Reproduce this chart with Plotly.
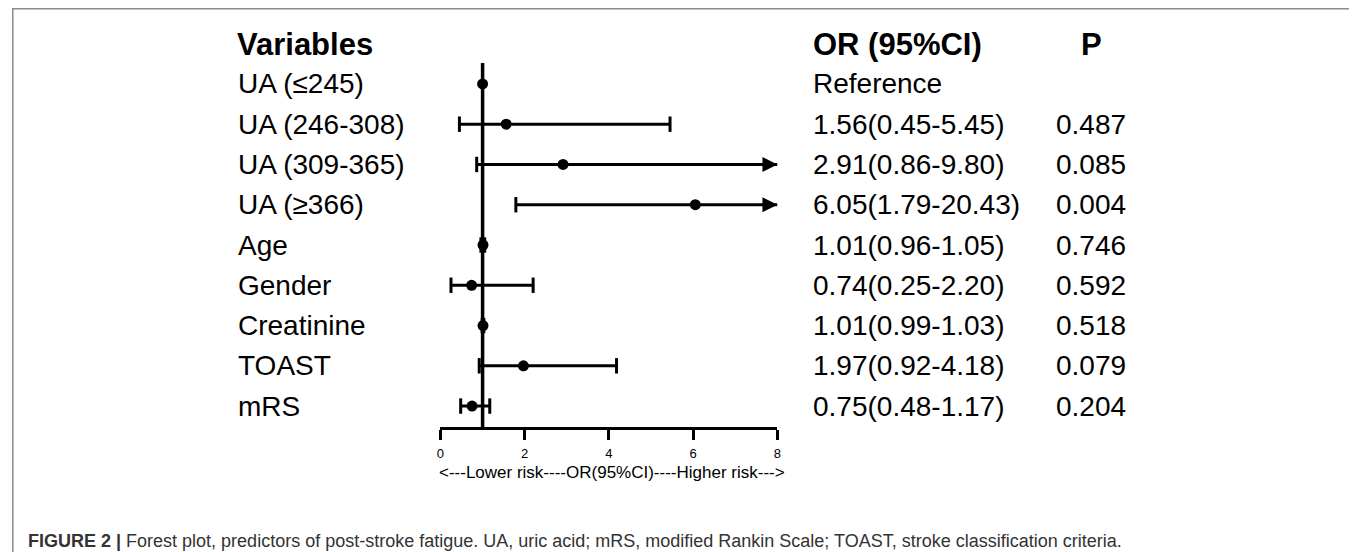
import plotly.graph_objects as go

variables = ["UA (≤245)", "UA (246-308)", "UA (309-365)", "UA (≥366)", "Age",
             "Gender", "Creatinine", "TOAST", "mRS"]
or_vals = [1.00, 1.56, 2.91, 6.05, 1.01, 0.74, 1.01, 1.97, 0.75]
ci_low = [1.00, 0.45, 0.86, 1.79, 0.96, 0.25, 0.99, 0.92, 0.48]
ci_high = [1.00, 5.45, 9.80, 20.43, 1.05, 2.20, 1.03, 4.18, 1.17]
or_text = ["Reference", "1.56(0.45-5.45)", "2.91(0.86-9.80)", "6.05(1.79-20.43)",
           "1.01(0.96-1.05)", "0.74(0.25-2.20)", "1.01(0.99-1.03)", "1.97(0.92-4.18)",
           "0.75(0.48-1.17)"]
p_text = ["", "0.487", "0.085", "0.004", "0.746", "0.592", "0.518", "0.079", "0.204"]
x_ticks = [0, 2, 4, 6, 8]
x_min, x_max = 0, 8
ref_line = 1

W, H = 1357, 552
OFF = 8  # page body margin


def px(x):
    return (x - OFF) / W


def py(y):
    return 1 - (y - OFF) / H


FONT = "Liberation Sans, Arial, sans-serif"
n = len(variables)
rows = list(range(n))

fig = go.Figure()

# CI lines
for i in rows:
    if ci_high[i] > ci_low[i]:
        hi = min(ci_high[i], x_max)
        fig.add_trace(go.Scatter(x=[ci_low[i], hi], y=[i, i], mode="lines",
                                 line=dict(color="black", width=3),
                                 hoverinfo="skip", showlegend=False, cliponaxis=False))

# caps
cap_x, cap_y = [], []
for i in rows:
    if ci_high[i] > ci_low[i]:
        cap_x.append(ci_low[i]); cap_y.append(i)
        if ci_high[i] <= x_max:
            cap_x.append(ci_high[i]); cap_y.append(i)
fig.add_trace(go.Scatter(x=cap_x, y=cap_y, mode="markers",
                         marker=dict(symbol="line-ns", size=11,
                                     line=dict(color="black", width=3)),
                         hoverinfo="skip", showlegend=False, cliponaxis=False))

# points
fig.add_trace(go.Scatter(x=or_vals, y=rows, mode="markers",
                         marker=dict(symbol="circle", size=11, color="black"),
                         showlegend=False, cliponaxis=False))

# arrows for truncated CIs
for i in rows:
    if ci_high[i] > x_max:
        fig.add_annotation(x=x_max, y=i, ax=x_max - 0.4, ay=i, xref="x", yref="y",
                           axref="x", ayref="y", showarrow=True, arrowhead=2,
                           arrowsize=1, arrowwidth=3, arrowcolor="black", text="",
                           standoff=0)

# reference vertical line
fig.add_shape(type="line", x0=ref_line, x1=ref_line, xref="x", y0=0, y1=1,
              yref="y domain", line=dict(color="black", width=3.5))

# text columns
lab_font = dict(family=FONT, size=28, color="black")
head_font = dict(family=FONT, size=31, color="black")
head_y = py(45)
fig.add_annotation(x=px(232), y=head_y, xref="paper", yref="paper", text="<b>Variables</b>",
                   showarrow=False, xanchor="left", yanchor="middle", font=head_font)
fig.add_annotation(x=px(812), y=head_y, xref="paper", yref="paper", text="<b>OR (95%CI)</b>",
                   showarrow=False, xanchor="left", yanchor="middle", font=head_font)
fig.add_annotation(x=px(1094), y=head_y, xref="paper", yref="paper", text="<b>P</b>",
                   showarrow=False, xanchor="center", yanchor="middle", font=head_font)
for i in rows:
    fig.add_annotation(x=px(233), y=i, xref="paper", yref="y", text=variables[i],
                       showarrow=False, xanchor="left", font=lab_font)
    fig.add_annotation(x=px(812), y=i, xref="paper", yref="y", text=or_text[i],
                       showarrow=False, xanchor="left", font=lab_font)
    if p_text[i]:
        fig.add_annotation(x=px(1093), y=i, xref="paper", yref="y", text=p_text[i],
                           showarrow=False, xanchor="center", font=lab_font)

# axis title
fig.add_annotation(x=px((439 + 784) / 2), y=py(472), xref="paper", yref="paper",
                   text="<---Lower risk----OR(95%CI)----Higher risk--->",
                   showarrow=False, xanchor="center", yanchor="middle",
                   font=dict(family=FONT, size=17, color="black"))

# caption
fig.add_annotation(x=px(22), y=py(541), xref="paper", yref="paper",
                   text="<b>FIGURE 2 |</b> Forest plot, predictors of post-stroke fatigue. "
                        "UA, uric acid; mRS, modified Rankin Scale; TOAST, stroke classification criteria.",
                   showarrow=False, xanchor="left", yanchor="middle",
                   font=dict(family=FONT, size=18, color="#333333"))

# outer border
fig.add_shape(type="rect", xref="paper", yref="paper", x0=0.8 / W, x1=px(1355),
              y0=-0.2, y1=1 - 0.8 / H, line=dict(color="#8a8a8a", width=1.5))

fig.update_layout(
    width=W, height=H, margin=dict(l=0, r=0, t=0, b=0),
    paper_bgcolor="white", plot_bgcolor="white",
    xaxis=dict(domain=[px(439), px(778)], range=[x_min, x_max], tickvals=x_ticks,
               showgrid=False, zeroline=False, showline=True, linecolor="black",
               linewidth=3, ticks="outside", ticklen=10, tickwidth=3, tickcolor="black",
               ticklabelstandoff=2,
               tickfont=dict(family=FONT, size=13, color="black"), fixedrange=True),
    yaxis=dict(domain=[py(427), py(63)], range=[n - 1 + 0.52, -0.52],
               visible=False, fixedrange=True),
    showlegend=False,
)

fig.write_html("out.html")
